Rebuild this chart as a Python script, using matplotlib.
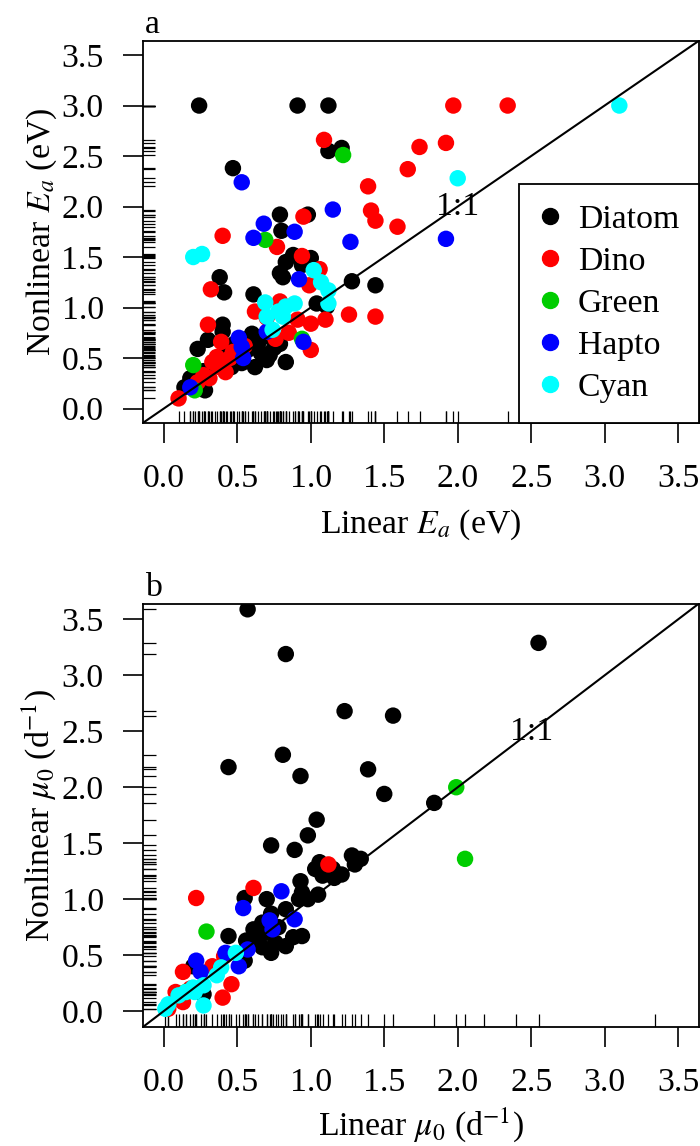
import numpy as np
import matplotlib
matplotlib.use("Agg")
import matplotlib.pyplot as plt
from matplotlib.lines import Line2D

plt.rcParams['font.family'] = ['Liberation Serif', 'DejaVu Serif']
plt.rcParams['mathtext.fontset'] = 'stix'

groups = ['Diatom', 'Dino', 'Green', 'Hapto', 'Cyan']
colors = ['black', '#FF0000', '#00CD00', '#0000FF', '#00FFFF']

# panel a: activation energy, linear vs nonlinear fit (eV)
ea_diatom_x = [0.24, 0.91, 1.12, 1.12, 1.21, 0.47, 0.79, 0.98, 0.80, 0.83, 0.81, 1.00, 0.38, 0.41,
               0.61, 1.28, 1.44, 1.04, 0.40, 0.40, 0.30, 0.23, 0.60, 0.64, 0.57, 0.72, 0.83, 0.62,
               0.46, 0.53, 0.14, 0.28, 0.79, 0.68, 0.43, 0.35, 0.27, 0.50, 0.66, 0.75, 0.55, 0.88,
               0.79, 0.94, 1.11, 0.18, 0.24, 0.48, 0.70]
ea_diatom_y = [3.00, 3.00, 3.00, 2.55, 2.58, 2.38, 1.92, 1.92, 1.76, 1.45, 1.30, 1.49, 1.30, 1.15,
               1.13, 1.26, 1.22, 1.04, 0.83, 0.76, 0.68, 0.59, 0.74, 0.64, 0.58, 0.53, 0.46, 0.41,
               0.41, 0.45, 0.21, 0.18, 0.64, 0.71, 0.58, 0.45, 0.37, 0.52, 0.55, 0.60, 0.68, 1.52,
               1.34, 1.42, 1.01, 0.30, 0.36, 0.64, 0.48]
ea_dino_x = [1.97, 2.34, 1.09, 1.74, 1.92, 1.66, 1.39, 1.41, 1.44, 1.59, 0.95, 0.40, 0.77, 0.94,
             1.06, 0.99, 0.32, 0.79, 0.91, 1.00, 1.10, 1.26, 1.44, 0.30, 0.39, 0.47, 0.36, 0.33,
             0.38, 0.42, 0.31, 0.23, 0.10, 0.76, 1.00, 0.27, 0.45, 0.55, 0.85, 0.70, 0.62]
ea_dino_y = [3.00, 3.00, 2.66, 2.59, 2.63, 2.37, 2.20, 1.96, 1.86, 1.80, 1.90, 1.71, 1.60, 1.51,
             1.38, 1.22, 1.18, 1.06, 0.88, 0.84, 0.88, 0.93, 0.91, 0.83, 0.66, 0.56, 0.51, 0.46,
             0.41, 0.36, 0.30, 0.26, 0.10, 0.69, 0.58, 0.33, 0.50, 0.62, 0.75, 0.90, 0.96]
ea_green_x = [1.22, 0.69, 0.20, 0.21, 0.94]
ea_green_y = [2.51, 1.67, 0.43, 0.18, 0.69]
ea_hapto_x = [0.53, 1.15, 0.68, 0.89, 0.61, 1.27, 1.92, 0.92, 0.51, 0.53, 0.54, 0.70, 0.95, 0.18]
ea_hapto_y = [2.24, 1.97, 1.83, 1.75, 1.69, 1.65, 1.68, 1.28, 0.70, 0.61, 0.50, 0.76, 0.66, 0.21]
ea_cyan_x = [3.10, 2.00, 0.20, 0.26, 1.02, 1.07, 1.12, 1.12, 0.69, 0.89, 0.70, 0.78, 0.81, 0.83, 0.74]
ea_cyan_y = [3.00, 2.28, 1.50, 1.53, 1.37, 1.25, 1.17, 1.04, 1.05, 1.04, 0.91, 0.96, 0.91, 1.01, 0.78]

# panel b: mu0, linear vs nonlinear fit (d^-1); a few points lie outside the plotted range
mu_diatom_x = [0.57, 2.55, 0.83, 1.23, 1.56, 0.81, 0.44, 1.39, 0.93, 1.50, 1.84, 1.04, 0.98, 0.73,
               0.89, 1.28, 1.34, 1.30, 1.06, 1.03, 1.08, 1.16, 1.21, 1.15, 0.93, 0.55, 0.70, 0.92,
               0.98, 1.05, 0.94, 0.83, 0.73, 0.67, 0.61, 0.56, 0.44, 0.94, 0.88, 0.83, 0.76, 0.73,
               0.67, 0.55, 0.27, 0.20, 0.62, 0.70, 0.78, 0.64, 3.34, 2.40, 2.18]
mu_diatom_y = [3.59, 3.29, 3.19, 2.68, 2.64, 2.29, 2.18, 2.16, 2.10, 1.94, 1.86, 1.71, 1.57, 1.48,
               1.44, 1.39, 1.36, 1.31, 1.33, 1.27, 1.21, 1.19, 1.22, 1.27, 1.16, 1.01, 1.00, 1.00,
               1.00, 1.04, 1.06, 0.91, 0.87, 0.79, 0.73, 0.63, 0.67, 0.67, 0.66, 0.58, 0.61, 0.52,
               0.57, 0.45, 0.15, 0.40, 0.62, 0.70, 0.75, 0.68, 3.95, 4.30, 3.90]
mu_dino_x = [1.12, 0.61, 0.22, 0.13, 0.46, 0.40, 0.41, 0.33, 0.08, 0.13, 0.03, 0.18]
mu_dino_y = [1.31, 1.10, 1.01, 0.35, 0.24, 0.12, 0.49, 0.40, 0.17, 0.08, 0.02, 0.20]
mu_green_x = [1.99, 2.05, 0.29, 0.15]
mu_green_y = [2.00, 1.36, 0.71, 0.17]
mu_hapto_x = [0.80, 0.54, 0.89, 0.72, 0.74, 0.42, 0.57, 0.51, 0.22, 0.25]
mu_hapto_y = [1.07, 0.92, 0.82, 0.81, 0.73, 0.52, 0.55, 0.40, 0.45, 0.35]
mu_cyan_x = [0.49, 0.39, 0.36, 0.27, 0.20, 0.15, 0.10, 0.27, 0.03, 0.01, 0.21]
mu_cyan_y = [0.52, 0.39, 0.32, 0.23, 0.21, 0.17, 0.14, 0.05, 0.06, 0.02, 0.17]

ticks = [0.0, 0.5, 1.0, 1.5, 2.0, 2.5, 3.0, 3.5]
lim = (-0.14, 3.64)
fs = 24.3

fig = plt.figure(figsize=(7, 11.46), dpi=100)
ax_a = fig.add_axes([0.2047, 0.6312, 0.7934, 0.3331])
ax_b = fig.add_axes([0.2047, 0.1041, 0.7934, 0.3691])


def draw_panel(ax, xs, ys, letter, one_pos, xlabel, ylabel, xlab_off):
    for x, y, c in zip(xs, ys, colors):
        ax.scatter(x, y, s=140, color=c, edgecolors='none', zorder=3)
    allx = np.concatenate([np.asarray(v) for v in xs])
    ally = np.concatenate([np.asarray(v) for v in ys])
    # rugs
    h = ax.get_position().height * 1146
    ax.vlines(allx, 0, 0.03, transform=ax.get_xaxis_transform(), color='black', lw=0.9, zorder=2)
    ax.hlines(ally, 0, 0.03 * h / 555.4, transform=ax.get_yaxis_transform(), color='black',
              lw=0.9, zorder=2)
    ax.plot(lim, lim, color='black', lw=1.5, zorder=4)
    ax.text(one_pos, one_pos, '1:1', fontsize=fs, ha='center', va='center', zorder=5)
    ax.set_xlim(lim)
    ax.set_ylim(lim)
    ax.set_xticks(ticks)
    ax.set_yticks(ticks)
    ax.set_xticklabels([f'{t:.1f}' for t in ticks])
    ax.set_yticklabels([f'{t:.1f}' for t in ticks])
    ax.tick_params(labelsize=fs, length=14.5, width=1.2, direction='out')
    ax.tick_params(axis='x', pad=15)
    ax.tick_params(axis='y', pad=14)
    for s in ax.spines.values():
        s.set_linewidth(1.3)
    ax.set_xlabel(xlabel, fontsize=fs)
    ax.set_ylabel(ylabel, fontsize=fs)
    ax.xaxis.set_label_coords(0.5, -xlab_off / h)
    ax.yaxis.set_label_coords(-0.152, 0.5)
    ax.text(0.003, 1 + 7.5 / h, letter, transform=ax.transAxes, fontsize=fs,
            ha='left', va='baseline')


draw_panel(ax_a, [ea_diatom_x, ea_dino_x, ea_green_x, ea_hapto_x, ea_cyan_x],
           [ea_diatom_y, ea_dino_y, ea_green_y, ea_hapto_y, ea_cyan_y], 'a', 2.0,
           'Linear $E_a$ (eV)', 'Nonlinear $E_a$ (eV)', 85)
draw_panel(ax_b, [mu_diatom_x, mu_dino_x, mu_green_x, mu_hapto_x, mu_cyan_x],
           [mu_diatom_y, mu_dino_y, mu_green_y, mu_hapto_y, mu_cyan_y], 'b', 2.5,
           'Linear $\\mu_0$ (d$^{-1}$)', 'Nonlinear $\\mu_0$ (d$^{-1}$)', 79)

handles = [Line2D([], [], marker='o', ls='', color=c, markersize=11.5) for c in colors]
leg = ax_a.legend(handles, groups, loc='lower right', bbox_to_anchor=(1, 0),
                  borderaxespad=0, fontsize=fs, frameon=True, fancybox=False,
                  edgecolor='black', framealpha=1, handlelength=0.65, handletextpad=0.5,
                  borderpad=0.58, labelspacing=0.34)
leg.get_frame().set_linewidth(1.3)
leg.set_zorder(6)

fig.savefig('out.png', dpi=100)
